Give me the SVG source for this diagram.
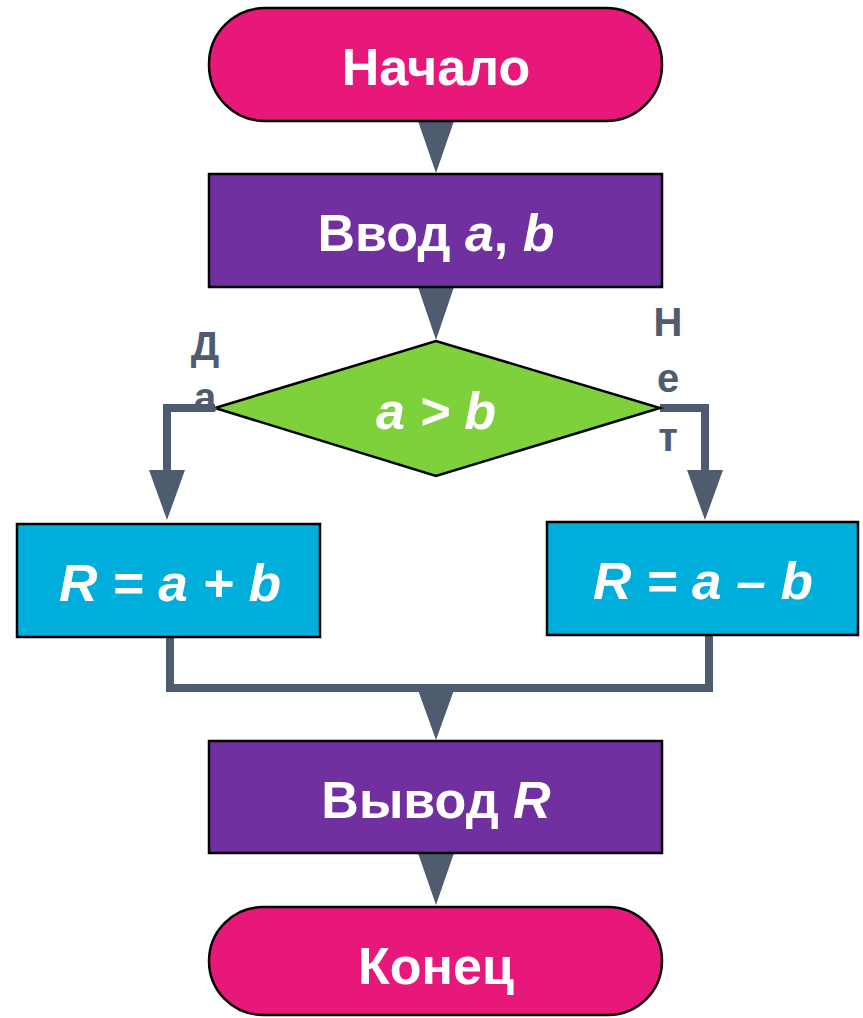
<svg xmlns="http://www.w3.org/2000/svg" width="863" height="1018" viewBox="0 0 863 1018">
<style>
.t{font-family:"Liberation Sans",Arial,sans-serif;font-weight:bold;fill:#fff;text-anchor:middle}
.i{font-style:italic}
.lbl{font-family:"Liberation Sans",Arial,sans-serif;font-weight:bold;fill:#4F5B6F;font-size:40px;text-anchor:middle}
.ln{fill:none;stroke:#4F5B6F;stroke-width:8}
.ah{fill:#4F5B6F}
.sh{stroke:#000;stroke-width:2.5}
</style>
<rect width="863" height="1018" fill="#fff"/>
<g id="connectors">
<polygon class="ah" points="418,121 454,121 436,173"/>
<polygon class="ah" points="418,287 454,287 436,340"/>
<polyline class="ln" points="215,408 167,408 167,472"/>
<polygon class="ah" points="149,470 185,470 167,520"/>
<polyline class="ln" points="660,408 705,408 705,472"/>
<polygon class="ah" points="687,470 723,470 705,520"/>
<polyline class="ln" points="170,637 170,688 709,688 709,635"/>
<polygon class="ah" points="418,690 454,690 436,740"/>
<polygon class="ah" points="418,853 454,853 436,905"/>
</g>
<g id="start">
<rect class="sh" x="209" y="8" width="453" height="113" rx="56" fill="#E8177A"/>
<text class="t" x="436" y="85" font-size="52">Начало</text>
</g>
<g id="input">
<rect class="sh" x="209" y="174" width="453" height="113" fill="#7030A0"/>
<text class="t" x="436" y="251" font-size="52">Ввод <tspan class="i">a</tspan>, <tspan class="i">b</tspan></text>
</g>
<g id="decision">
<polygon class="sh" points="215,408 436,341 660,408 436,476" fill="#7FD13B"/>
<text class="t i" x="436" y="429" font-size="52">a &gt; b</text>
<text class="lbl" x="205" y="360">Д</text>
<text class="lbl" x="205" y="411">а</text>
<text class="lbl" x="668" y="336">Н</text>
<text class="lbl" x="668" y="392">е</text>
<text class="lbl" x="668" y="451">т</text>
</g>
<g id="sum">
<rect class="sh" x="17" y="524" width="303" height="113" fill="#00AEDB"/>
<text class="t i" x="170" y="601" font-size="52" textLength="222" lengthAdjust="spacingAndGlyphs">R = a + b</text>
</g>
<g id="diff">
<rect class="sh" x="547" y="522" width="311" height="113" fill="#00AEDB"/>
<text class="t i" x="703" y="599" font-size="52" textLength="220" lengthAdjust="spacingAndGlyphs">R = a – b</text>
</g>
<g id="output">
<rect class="sh" x="209" y="741" width="453" height="112" fill="#7030A0"/>
<text class="t" x="436" y="818" font-size="52">Вывод <tspan class="i">R</tspan></text>
</g>
<g id="end">
<rect class="sh" x="209" y="907" width="453" height="108" rx="54" fill="#E8177A"/>
<text class="t" x="436" y="984" font-size="52">Конец</text>
</g>
</svg>
